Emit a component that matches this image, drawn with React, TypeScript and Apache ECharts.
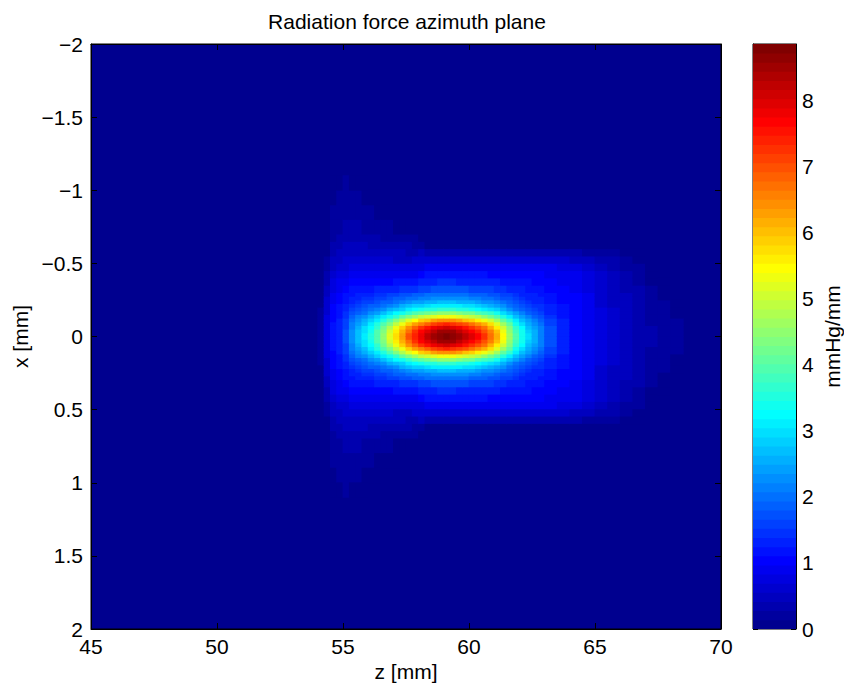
import { useEffect, useRef } from "react";
import * as echarts from "echarts";

// Column edges along z [mm] (a cell lies between consecutive edges)
const zEdges = [
  54, 54.25, 54.5, 54.75, 55, 55.25, 55.5, 55.75, 56, 56.25, 56.5, 56.75, 57, 57.25, 57.5, 57.75, 58, 58.25, 58.5,
  58.75, 59, 59.25, 59.5, 59.75, 60, 60.25, 60.5, 60.75, 61, 61.25, 61.5, 61.75, 62, 62.25, 62.5, 62.75, 63,
  63.5, 64, 64.5, 65, 65.5, 66, 66.5, 67, 67.5, 68, 68.5,
];
// Row edges along |x| [mm] (the field is symmetric about x = 0)
const absXEdges = [0, 0.025, 0.05, 0.075, 0.1, 0.125, 0.15, 0.175, 0.2, 0.225, 0.25, 0.275, 0.3, 0.35, 0.4, 0.45, 0.5, 0.55, 0.6, 0.65, 0.7, 0.8, 0.9, 1.0, 1.1];
// Radiation force [mmHg/mm]: one list per z column, entries by |x| row (missing = 0)
const force: number[][] = [
  [0.22, 0.22, 0.21, 0.2, 0.19, 0.18, 0.16, 0.15, 0.13, 0.12, 0.1, 0.09, 0.07, 0.04, 0.02],
  [0.75, 0.75, 0.74, 0.73, 0.72, 0.7, 0.68, 0.66, 0.63, 0.6, 0.57, 0.54, 0.49, 0.41, 0.32, 0.22, 0.14, 0.08, 0.04, 0.02],
  [1.15, 1.15, 1.14, 1.12, 1.1, 1.08, 1.05, 1.03, 0.99, 0.96, 0.93, 0.89, 0.82, 0.73, 0.63, 0.53, 0.44, 0.36, 0.29, 0.23, 0.17, 0.14, 0.08, 0.03],
  [1.35, 1.34, 1.33, 1.3, 1.27, 1.23, 1.2, 1.16, 1.12, 1.08, 1.04, 1.0, 0.93, 0.83, 0.73, 0.63, 0.54, 0.46, 0.39, 0.33, 0.27, 0.21, 0.15, 0.1],
  [1.7, 1.68, 1.65, 1.6, 1.55, 1.47, 1.41, 1.33, 1.27, 1.22, 1.16, 1.11, 1.02, 0.91, 0.79, 0.67, 0.57, 0.49, 0.42, 0.36, 0.3, 0.27, 0.19, 0.14],
  [2.3, 2.26, 2.2, 2.1, 1.98, 1.82, 1.7, 1.56, 1.47, 1.37, 1.29, 1.21, 1.11, 0.97, 0.84, 0.7, 0.6, 0.51, 0.44, 0.38, 0.32, 0.26, 0.2, 0.13],
  [2.74, 2.7, 2.6, 2.47, 2.3, 2.08, 1.9, 1.72, 1.6, 1.47, 1.37, 1.28, 1.16, 1.0, 0.86, 0.72, 0.6, 0.51, 0.44, 0.37, 0.3, 0.23, 0.15, 0.06],
  [3.09, 3.03, 2.92, 2.76, 2.54, 2.29, 2.07, 1.85, 1.69, 1.55, 1.43, 1.33, 1.2, 1.03, 0.86, 0.72, 0.6, 0.5, 0.42, 0.35, 0.27, 0.19, 0.11, 0.02],
  [3.49, 3.42, 3.28, 3.08, 2.82, 2.51, 2.24, 1.98, 1.8, 1.63, 1.5, 1.38, 1.23, 1.04, 0.87, 0.72, 0.59, 0.49, 0.4, 0.32, 0.24, 0.15, 0.06],
  [3.99, 3.9, 3.73, 3.48, 3.16, 2.77, 2.45, 2.13, 1.91, 1.71, 1.56, 1.42, 1.25, 1.06, 0.87, 0.71, 0.58, 0.47, 0.38, 0.3, 0.21, 0.12, 0.03],
  [4.53, 4.42, 4.22, 3.92, 3.53, 3.06, 2.68, 2.3, 2.04, 1.81, 1.62, 1.47, 1.29, 1.07, 0.87, 0.71, 0.57, 0.46, 0.36, 0.27, 0.18, 0.09],
  [5.13, 5.0, 4.76, 4.41, 3.94, 3.39, 2.94, 2.49, 2.19, 1.92, 1.71, 1.54, 1.32, 1.1, 0.89, 0.7, 0.56, 0.44, 0.34, 0.25, 0.15, 0.05],
  [5.73, 5.57, 5.3, 4.89, 4.35, 3.71, 3.2, 2.68, 2.34, 2.04, 1.8, 1.6, 1.36, 1.12, 0.9, 0.7, 0.55, 0.43, 0.32, 0.22, 0.12, 0.02],
  [6.32, 6.15, 5.84, 5.37, 4.75, 4.03, 3.45, 2.88, 2.49, 2.15, 1.88, 1.67, 1.4, 1.15, 0.91, 0.71, 0.55, 0.42, 0.3, 0.2, 0.1],
  [6.92, 6.72, 6.37, 5.85, 5.16, 4.36, 3.71, 3.07, 2.64, 2.26, 1.98, 1.74, 1.45, 1.18, 0.93, 0.72, 0.55, 0.41, 0.28, 0.17, 0.06],
  [7.42, 7.2, 6.82, 6.26, 5.51, 4.63, 3.93, 3.23, 2.77, 2.37, 2.06, 1.8, 1.51, 1.21, 0.95, 0.73, 0.56, 0.41, 0.26, 0.14, 0.03],
  [7.87, 7.63, 7.23, 6.63, 5.82, 4.88, 4.13, 3.37, 2.89, 2.46, 2.13, 1.87, 1.56, 1.26, 0.99, 0.76, 0.58, 0.42, 0.25, 0.11],
  [8.21, 7.97, 7.54, 6.9, 6.04, 5.06, 4.26, 3.49, 2.98, 2.54, 2.21, 1.96, 1.65, 1.37, 1.13, 0.92, 0.66, 0.34, 0.09],
  [8.51, 8.26, 7.81, 7.14, 6.25, 5.22, 4.39, 3.59, 3.06, 2.6, 2.26, 1.99, 1.68, 1.38, 1.14, 0.92, 0.66, 0.34, 0.09],
  [8.71, 8.45, 7.99, 7.31, 6.39, 5.33, 4.48, 3.65, 3.11, 2.64, 2.29, 2.02, 1.69, 1.39, 1.14, 0.92, 0.66, 0.34, 0.09],
  [8.78, 8.52, 8.05, 7.36, 6.44, 5.37, 4.51, 3.67, 3.13, 2.65, 2.3, 2.02, 1.7, 1.39, 1.14, 0.92, 0.66, 0.34, 0.09],
  [8.71, 8.45, 7.99, 7.31, 6.39, 5.33, 4.48, 3.65, 3.11, 2.64, 2.29, 2.02, 1.69, 1.39, 1.14, 0.92, 0.66, 0.34, 0.09],
  [8.51, 8.26, 7.81, 7.14, 6.25, 5.22, 4.39, 3.59, 3.06, 2.6, 2.26, 1.99, 1.68, 1.38, 1.14, 0.92, 0.66, 0.34, 0.09],
  [8.26, 8.02, 7.58, 6.94, 6.08, 5.09, 4.28, 3.5, 3.0, 2.55, 2.22, 1.96, 1.66, 1.37, 1.13, 0.92, 0.66, 0.34, 0.09],
  [7.97, 7.73, 7.31, 6.7, 5.87, 4.92, 4.15, 3.4, 2.92, 2.49, 2.17, 1.93, 1.63, 1.36, 1.13, 0.91, 0.66, 0.34, 0.09],
  [7.62, 7.39, 7.0, 6.41, 5.63, 4.73, 4.0, 3.29, 2.83, 2.42, 2.12, 1.88, 1.61, 1.34, 1.12, 0.91, 0.66, 0.34, 0.09],
  [7.22, 7.01, 6.64, 6.09, 5.35, 4.51, 3.82, 3.16, 2.72, 2.34, 2.06, 1.84, 1.57, 1.32, 1.11, 0.91, 0.66, 0.34, 0.09],
  [6.72, 6.53, 6.19, 5.69, 5.01, 4.23, 3.6, 2.99, 2.59, 2.24, 1.98, 1.78, 1.53, 1.3, 1.1, 0.91, 0.66, 0.34, 0.09],
  [6.13, 5.95, 5.65, 5.2, 4.6, 3.9, 3.34, 2.79, 2.44, 2.12, 1.89, 1.7, 1.49, 1.27, 1.09, 0.9, 0.66, 0.34, 0.09],
  [5.43, 5.28, 5.02, 4.63, 4.11, 3.52, 3.03, 2.56, 2.26, 1.98, 1.78, 1.62, 1.43, 1.24, 1.08, 0.9, 0.66, 0.34, 0.09],
  [4.68, 4.56, 4.34, 4.03, 3.6, 3.11, 2.7, 2.32, 2.06, 1.83, 1.66, 1.53, 1.37, 1.21, 1.06, 0.9, 0.66, 0.34, 0.09],
  [3.94, 3.84, 3.67, 3.42, 3.08, 2.69, 2.37, 2.07, 1.87, 1.68, 1.55, 1.44, 1.31, 1.17, 1.05, 0.89, 0.66, 0.34, 0.09],
  [3.44, 3.36, 3.21, 3.01, 2.73, 2.41, 2.14, 1.89, 1.72, 1.56, 1.45, 1.36, 1.25, 1.13, 1.02, 0.87, 0.65, 0.33, 0.09],
  [2.94, 2.88, 2.76, 2.6, 2.38, 2.13, 1.92, 1.72, 1.59, 1.46, 1.37, 1.3, 1.21, 1.11, 1.01, 0.87, 0.65, 0.33, 0.09],
  [2.54, 2.5, 2.4, 2.28, 2.11, 1.91, 1.74, 1.59, 1.49, 1.38, 1.31, 1.25, 1.18, 1.09, 1.0, 0.87, 0.65, 0.33, 0.09],
  [2.19, 2.16, 2.09, 2.0, 1.86, 1.72, 1.59, 1.48, 1.4, 1.31, 1.26, 1.21, 1.15, 1.08, 0.99, 0.86, 0.65, 0.33, 0.09],
  [1.75, 1.73, 1.68, 1.63, 1.54, 1.46, 1.37, 1.31, 1.26, 1.2, 1.16, 1.13, 1.09, 1.04, 0.96, 0.84, 0.63, 0.33, 0.09],
  [1.35, 1.34, 1.32, 1.29, 1.25, 1.21, 1.17, 1.13, 1.11, 1.08, 1.05, 1.03, 0.99, 0.94, 0.87, 0.77, 0.58, 0.3, 0.08],
  [1.1, 1.1, 1.09, 1.09, 1.08, 1.07, 1.06, 1.05, 1.03, 1.02, 1.0, 0.99, 0.95, 0.9, 0.83, 0.73, 0.55, 0.28, 0.07],
  [0.9, 0.9, 0.9, 0.89, 0.89, 0.88, 0.88, 0.87, 0.86, 0.85, 0.84, 0.83, 0.8, 0.76, 0.7, 0.62, 0.47, 0.24, 0.06],
  [0.72, 0.72, 0.72, 0.72, 0.71, 0.71, 0.7, 0.7, 0.69, 0.68, 0.67, 0.66, 0.64, 0.61, 0.56, 0.49, 0.38, 0.19, 0.04],
  [0.58, 0.58, 0.58, 0.58, 0.57, 0.57, 0.56, 0.56, 0.55, 0.54, 0.53, 0.52, 0.5, 0.47, 0.43, 0.37, 0.28, 0.14, 0.02],
  [0.48, 0.48, 0.48, 0.47, 0.47, 0.47, 0.46, 0.46, 0.45, 0.44, 0.43, 0.42, 0.4, 0.37, 0.32, 0.26, 0.18, 0.08],
  [0.38, 0.38, 0.38, 0.37, 0.37, 0.37, 0.36, 0.36, 0.35, 0.34, 0.33, 0.32, 0.3, 0.26, 0.21, 0.15, 0.08, 0.02],
  [0.28, 0.28, 0.28, 0.27, 0.27, 0.26, 0.26, 0.25, 0.24, 0.23, 0.22, 0.2, 0.17, 0.13, 0.08, 0.04],
  [0.19, 0.19, 0.19, 0.18, 0.18, 0.17, 0.17, 0.16, 0.15, 0.14, 0.13, 0.11, 0.08, 0.04],
  [0.15, 0.15, 0.15, 0.14, 0.14, 0.12, 0.1, 0.08, 0.05, 0.02],
];

const zRange = [45, 70];
const zTickStep = 5;
const xRange = [-2, 2];
const xTickStep = 0.5;
const colorbarMax = 8.85;
const colorLevels = 64;

const FONT = "'Liberation Sans', Arial, Helvetica, sans-serif";
const FS = 21;

function jet(i: number): string {
  const idx = i + 1;
  const u = (k: number) => (k < 1 || k > 47 ? 0 : k <= 16 ? k / 16 : k <= 31 ? 1 : (48 - k) / 16);
  const r = u(idx - 24), g = u(idx - 8), b = u(idx + 8);
  return `rgb(${Math.round(r * 255)},${Math.round(g * 255)},${Math.round(b * 255)})`;
}

const minusFmt = (v: number) => String(v).replace("-", "\u2212");

export default function App() {
  const ref = useRef<HTMLDivElement>(null);
  useEffect(() => {
    if (!ref.current) return;
    const chart = echarts.init(ref.current, undefined, { renderer: "svg" });

    const cells: number[][] = [];
    force.forEach((col, c) => {
      col.forEach((v, r) => {
        const z0 = zEdges[c], z1 = zEdges[c + 1];
        const a0 = absXEdges[r], a1 = absXEdges[r + 1];
        cells.push([z0, z1, a0, a1, v]);
        cells.push([z0, z1, -a1, -a0, v]);
      });
    });

    const w = colorbarMax / colorLevels;
    const bands: number[][] = [];
    for (let i = 0; i < colorLevels; i++) bands.push([0, 1, i * w, (i + 1) * w, (i + 0.5) * w]);

    const pieces = Array.from({ length: colorLevels }, (_, i) =>
      i === colorLevels - 1 ? { gte: i * w, color: jet(i) } : { gte: i * w, lt: (i + 1) * w, color: jet(i) }
    );

    const renderRect = (_p: any, api: any) => {
      const p0 = api.coord([api.value(0), api.value(2)]);
      const p1 = api.coord([api.value(1), api.value(3)]);
      const x = Math.min(p0[0], p1[0]) - 0.4;
      const y = Math.min(p0[1], p1[1]) - 0.4;
      return {
        type: "rect",
        shape: { x, y, width: Math.abs(p1[0] - p0[0]) + 0.8, height: Math.abs(p1[1] - p0[1]) + 0.8 },
        style: { fill: api.visual("color") },
      };
    };

    const black = { color: "#000", width: 1 };
    const label = { color: "#000", fontSize: FS, fontFamily: FONT };

    chart.setOption({
      animation: false,
      textStyle: { fontFamily: FONT },
      grid: [
        { left: 91, top: 44, width: 630, height: 585, show: true, backgroundColor: jet(0), borderColor: "#000", borderWidth: 1 },
        { left: 753, top: 44, width: 43, height: 585, show: true, borderColor: "#000", borderWidth: 1 },
      ],
      graphic: [
        {
          type: "text", x: 407, y: 21, z: 10,
          style: { text: "Radiation force azimuth plane", fontSize: FS, fontFamily: FONT, fill: "#000", align: "center", verticalAlign: "middle" },
        },
      ],
      visualMap: { type: "piecewise", show: false, dimension: 4, seriesIndex: [0, 1], pieces },
      xAxis: [
        {
          gridIndex: 0, type: "value", min: zRange[0], max: zRange[1], interval: zTickStep, position: "bottom",
          name: "z [mm]", nameLocation: "middle", nameGap: 32, nameTextStyle: label,
          axisLine: { show: true, onZero: false, lineStyle: black }, axisTick: { inside: true, length: 6, lineStyle: black },
          axisLabel: { ...label, lineHeight: 16, margin: 9 }, splitLine: { show: false },
        },
        {
          gridIndex: 0, type: "value", min: zRange[0], max: zRange[1], interval: zTickStep, position: "top",
          axisLine: { show: true, onZero: false, lineStyle: black }, axisTick: { inside: true, length: 6, lineStyle: black },
          axisLabel: { show: false }, splitLine: { show: false },
        },
        { gridIndex: 1, type: "value", min: 0, max: 1, show: false },
      ],
      yAxis: [
        {
          gridIndex: 0, type: "value", min: xRange[0], max: xRange[1], interval: xTickStep, inverse: true, position: "left",
          name: "x [mm]", nameLocation: "middle", nameGap: 56, nameRotate: 90, nameTextStyle: label,
          axisLine: { show: true, onZero: false, lineStyle: black }, axisTick: { inside: true, length: 6, lineStyle: black },
          axisLabel: { ...label, lineHeight: 16, margin: 8, formatter: minusFmt }, splitLine: { show: false },
        },
        {
          gridIndex: 0, type: "value", min: xRange[0], max: xRange[1], interval: xTickStep, inverse: true, position: "right",
          axisLine: { show: true, onZero: false, lineStyle: black }, axisTick: { inside: true, length: 6, lineStyle: black },
          axisLabel: { show: false }, splitLine: { show: false },
        },
        {
          gridIndex: 1, type: "value", min: 0, max: colorbarMax, interval: 1, position: "right",
          name: "mmHg/mm", nameLocation: "middle", nameGap: 26, nameRotate: 90, nameTextStyle: label,
          axisLine: { show: true, onZero: false, lineStyle: black }, axisTick: { inside: true, length: 5, lineStyle: black },
          axisLabel: { ...label, lineHeight: 16, margin: 6, showMaxLabel: false }, splitLine: { show: false },
        },
        {
          gridIndex: 1, type: "value", min: 0, max: colorbarMax, interval: 1, position: "left",
          axisLine: { show: true, onZero: false, lineStyle: black }, axisTick: { inside: true, length: 5, lineStyle: black },
          axisLabel: { show: false }, splitLine: { show: false },
        },
      ],
      series: [
        {
          type: "custom", xAxisIndex: 0, yAxisIndex: 0, clip: true,
          encode: { x: [0, 1], y: [2, 3] }, data: cells, renderItem: renderRect,
        },
        {
          type: "custom", xAxisIndex: 2, yAxisIndex: 2, clip: true,
          encode: { x: [0, 1], y: [2, 3] }, data: bands, renderItem: renderRect,
        },
      ],
    });
    return () => chart.dispose();
  }, []);
  return <div ref={ref} style={{ position: "fixed", left: 0, top: 0, width: 844, height: 689, background: "#fff" }} />;
}
